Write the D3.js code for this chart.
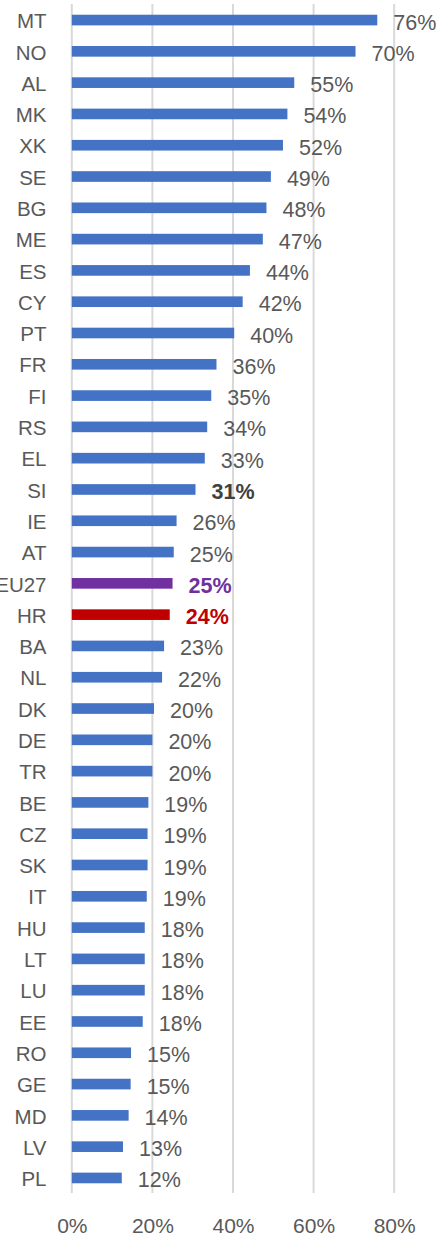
<!DOCTYPE html>
<html><head><meta charset="utf-8">
<script src="https://cdn.jsdelivr.net/npm/d3@7"></script>
<style>html,body{margin:0;padding:0;background:#fff;}svg{display:block;}</style>
</head><body>
<script>
const categories = ["MT","NO","AL","MK","XK","SE","BG","ME","ES","CY","PT","FR","FI","RS","EL","SI","IE","AT","EU27","HR","BA","NL","DK","DE","TR","BE","CZ","SK","IT","HU","LT","LU","EE","RO","GE","MD","LV","PL"];
const values = [75.8,70.4,55.2,53.5,52.4,49.4,48.3,47.4,44.2,42.4,40.3,35.9,34.6,33.6,33.0,30.7,26.0,25.3,25.0,24.3,22.9,22.4,20.4,20.0,20.0,19.0,18.8,18.8,18.6,18.1,18.1,18.1,17.6,14.7,14.6,14.1,12.7,12.4];
const ticks = [0,20,40,60,80];

const W = 444, H = 1238;
const font = "'Liberation Sans', Arial, sans-serif";
const svg = d3.select("body").append("svg").attr("width", W).attr("height", H);

const x = d3.scaleLinear().domain([0, 80]).range([71.8, 394.2]);
const y = d3.scaleBand().domain(categories).range([4.4, 1193.6]).paddingInner(0.66).paddingOuter(0.33);

// gridlines
svg.append("g").selectAll("line").data(ticks).join("line")
  .attr("x1", d => x(d)).attr("x2", d => x(d))
  .attr("y1", 4).attr("y2", 1193)
  .attr("stroke", "#d9d9d9").attr("stroke-width", 2);

const colorOf = c => c === "EU27" ? "#7030A0" : c === "HR" ? "#C00000" : "#4472C4";
const labelColor = c => c === "EU27" ? "#7030A0" : c === "HR" ? "#C00000" : c === "SI" ? "#404040" : "#595959";
const bold = c => (c === "EU27" || c === "HR" || c === "SI");

const data = categories.map((c, i) => ({c, v: values[i]}));

svg.append("g").selectAll("rect").data(data).join("rect")
  .attr("x", x(0)).attr("y", d => y(d.c))
  .attr("width", d => x(d.v) - x(0)).attr("height", y.bandwidth())
  .attr("fill", d => colorOf(d.c));

// category labels
svg.append("g").selectAll("text").data(data).join("text")
  .attr("x", 46.5).attr("y", d => y(d.c) + y.bandwidth()/2 + 1)
  .attr("dy", "0.35em").attr("text-anchor", "end")
  .attr("font-family", font).attr("font-size", 20.5).attr("fill", "#595959")
  .text(d => d.c);

// value labels
svg.append("g").selectAll("text").data(data).join("text")
  .attr("x", d => x(d.v) + 16).attr("y", d => y(d.c) + y.bandwidth()/2 + 2)
  .attr("dy", "0.35em").attr("text-anchor", "start")
  .attr("font-family", font).attr("font-size", 21.5)
  .attr("font-weight", d => bold(d.c) ? "bold" : "normal")
  .attr("fill", d => labelColor(d.c))
  .text(d => Math.round(d.v) + "%");

// axis
const axis = d3.axisBottom(x).tickValues(ticks).tickFormat(d => d + "%").tickSize(0).tickPadding(0);
const ax = svg.append("g").attr("transform", "translate(0,1218.5)").call(axis);
ax.select(".domain").remove();
ax.selectAll("text").attr("font-family", font).attr("font-size", 21).attr("fill", "#595959");
</script>
</body></html>
